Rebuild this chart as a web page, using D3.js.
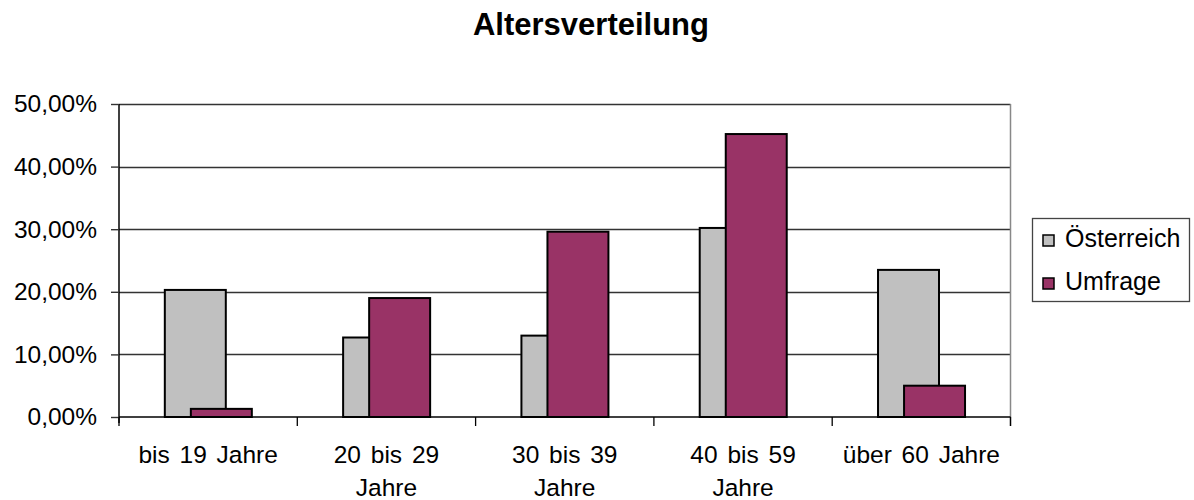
<!DOCTYPE html>
<html>
<head>
<meta charset="utf-8">
<script src="https://cdn.jsdelivr.net/npm/d3@7"></script>
<style>
  html, body { margin: 0; padding: 0; background: #fff; }
  svg { display: block; font-family: Arial, "Liberation Sans", sans-serif; }
</style>
</head>
<body>
<svg id="chart" width="1194" height="500"></svg>
<script>
const categories = ["bis 19 Jahre", "20 bis 29 Jahre", "30 bis 39 Jahre", "40 bis 59 Jahre", "über 60 Jahre"];
const tickLabels = [["bis 19 Jahre"], ["20 bis 29", "Jahre"], ["30 bis 39", "Jahre"], ["40 bis 59", "Jahre"], ["über 60 Jahre"]];
const seriesNames = ["Österreich", "Umfrage"];
const oesterreich = [0.203, 0.127, 0.130, 0.302, 0.235];
const umfrage = [0.013, 0.190, 0.296, 0.452, 0.050];
const yTicks = [0, 0.1, 0.2, 0.3, 0.4, 0.5];
const colors = ["#C0C0C0", "#993366"];

(function () {
const svg = d3.select("#chart");
const pLeft = 119, pRight = 1010.5, pTop = 104, pBottom = 417;

const x = d3.scaleBand().domain(categories).range([pLeft, pRight]).padding(0);
const y = d3.scaleLinear().domain([0, 0.5]).range([pBottom, pTop]);
const fmt = v => d3.format(".2f")(v * 100).replace(".", ",") + "%";

// title
svg.append("text").attr("x", 591).attr("y", 35).attr("text-anchor", "middle")
  .style("font-size", "31px").style("font-weight", "bold").text("Altersverteilung");

// gridlines
svg.append("g").selectAll("line").data(yTicks.filter(d => d > 0)).join("line")
  .attr("x1", pLeft).attr("x2", pRight)
  .attr("y1", d => Math.round(y(d)) + 0.5).attr("y2", d => Math.round(y(d)) + 0.5)
  .attr("stroke", "#333").attr("stroke-width", 1.4);

// right border of plot area
svg.append("line").attr("x1", pRight).attr("x2", pRight).attr("y1", pTop).attr("y2", pBottom + 9)
  .attr("stroke", "#888").attr("stroke-width", 1.5);

// bars
const bw = x.bandwidth();
const barW = bw * 0.342, groupOff = bw * 0.257, seriesOff = bw * 0.146;
const series = [oesterreich, umfrage];
series.forEach((vals, si) => {
  svg.append("g").selectAll("rect").data(vals).join("rect")
    .attr("x", (d, i) => x(categories[i]) + groupOff + si * seriesOff)
    .attr("y", d => y(d))
    .attr("width", barW)
    .attr("height", d => y(0) - y(d))
    .attr("fill", colors[si])
    .attr("stroke", "#000").attr("stroke-width", 2);
});

// y axis
const yAxis = d3.axisLeft(y).tickValues(yTicks).tickFormat(fmt).tickSize(8).tickPadding(14);
const gy = svg.append("g").attr("transform", `translate(${pLeft},0)`).call(yAxis);
gy.select(".domain").attr("stroke", "#000").attr("stroke-width", 1.5).attr("d", `M0,${pTop}V${pBottom + 6}`);
gy.selectAll(".tick line").attr("stroke", "#333").attr("stroke-width", 1.4);
gy.selectAll("text").style("font-size", "24.5px").style("font-family", "Arial, 'Liberation Sans', sans-serif").attr("fill", "#000");

// x axis
const gx = svg.append("g").attr("transform", `translate(0,${pBottom})`);
gx.append("line").attr("x1", pLeft).attr("x2", pRight).attr("y1", 0).attr("y2", 0)
  .attr("stroke", "#000").attr("stroke-width", 1.5);
const boundaries = categories.map(c => x(c)).concat([pRight]);
gx.selectAll("line.tk").data(boundaries).join("line").attr("class", "tk")
  .attr("x1", d => d).attr("x2", d => d).attr("y1", 0).attr("y2", 9)
  .attr("stroke", "#000").attr("stroke-width", 1.3);
const lbl = gx.selectAll("text.lbl").data(categories).join("text").attr("class", "lbl")
  .attr("text-anchor", "middle").style("font-size", "24.5px").style("word-spacing", "3px").attr("fill", "#000");
lbl.each(function(c, i) {
  const t = d3.select(this);
  tickLabels[i].forEach((line, li) => {
    t.append("tspan").attr("x", x(c) + bw / 2).attr("y", 45.5 + li * 33.5).text(line);
  });
});

// legend
const lg = svg.append("g");
lg.append("rect").attr("x", 1032.5).attr("y", 218.5).attr("width", 157).attr("height", 83)
  .attr("fill", "#fff").attr("stroke", "#444").attr("stroke-width", 1.3);
seriesNames.forEach((name, i) => {
  lg.append("rect").attr("x", 1043).attr("y", 235 + i * 43).attr("width", 11).attr("height", 11)
    .attr("fill", colors[i]).attr("stroke", "#000").attr("stroke-width", 1.5);
  lg.append("text").attr("x", 1065).attr("y", 247 + i * 43).style("font-size", "25px").text(name);
});
})();
</script>
</body>
</html>
